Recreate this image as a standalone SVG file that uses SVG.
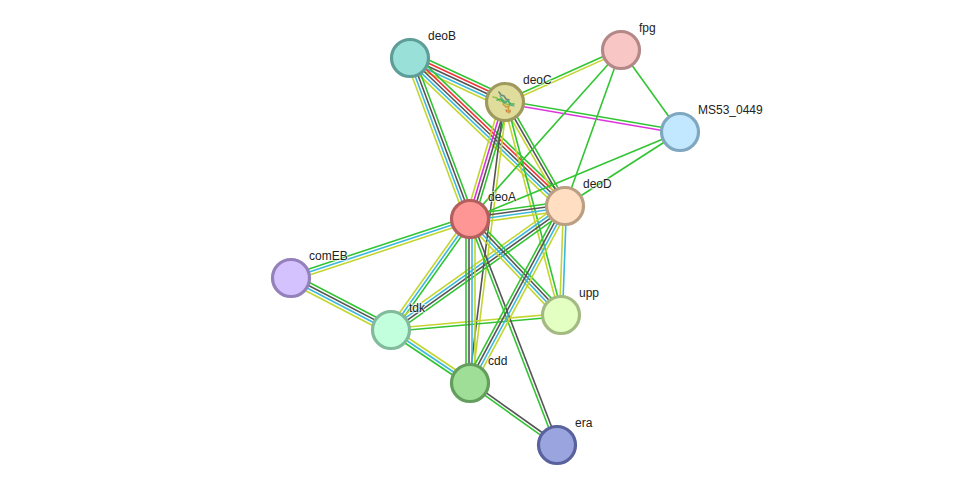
<svg xmlns="http://www.w3.org/2000/svg" width="975" height="490" viewBox="0 0 975 490">
<style>
text{font-family:"Liberation Sans",Arial,sans-serif;font-size:12px;fill:#222;paint-order:stroke;stroke:#fff;stroke-width:2px;stroke-opacity:.6}
line{stroke-width:1.6;fill:none}
.g{stroke:#33c433}.r{stroke:#f2343a}.k{stroke:#555}.b{stroke:#3cb8dc}.y{stroke:#c3d630}.m{stroke:#dd33dd}
circle{stroke-width:3.2}
.fold{fill:none;stroke-linecap:round;stroke-linejoin:round}
</style>
<rect width="975" height="490" fill="#fff"/>
<g id="connectors">
<!-- each bundle runs along local x; strands sit at fixed local y offsets -->
<g transform="translate(410,58) rotate(24.85)"><line class="g" x2="104.7" y1="-6" y2="-6"/><line class="r" x2="104.7" y1="-3" y2="-3"/><line class="k" x2="104.7"/><line class="b" x2="104.7" y1="3" y2="3"/><line class="y" x2="104.7" y1="6" y2="6"/></g>
<g transform="translate(410,58) rotate(43.68)"><line class="g" x2="214.3" y1="-6" y2="-6"/><line class="r" x2="214.3" y1="-3" y2="-3"/><line class="k" x2="214.3"/><line class="b" x2="214.3" y1="3" y2="3"/><line class="y" x2="214.3" y1="6" y2="6"/></g>
<g transform="translate(410,58) rotate(69.56)"><line class="g" x2="171.8" y1="-4.5" y2="-4.5"/><line class="k" x2="171.8" y1="-1.5" y2="-1.5"/><line class="b" x2="171.8" y1="1.5" y2="1.5"/><line class="y" x2="171.8" y1="4.5" y2="4.5"/></g>
<g transform="translate(470,219) rotate(-73.35)"><line class="y" x2="122.1" y1="-4.5" y2="-4.5"/><line class="m" x2="122.1" y1="-1.5" y2="-1.5"/><line class="k" x2="122.1" y1="1.5" y2="1.5"/><line class="g" x2="122.1" y1="4.5" y2="4.5"/></g>
<g transform="translate(505,102) rotate(60.02)"><line class="g" x2="120.1" y1="-3" y2="-3"/><line class="k" x2="120.1"/><line class="y" x2="120.1" y1="3" y2="3"/></g>
<g transform="translate(470,383) rotate(-82.9)"><line class="k" x2="283.2" y1="-1" y2="-1"/><line class="y" x2="283.2" y1="2" y2="2"/></g>
<g transform="translate(505,102) rotate(75.27)"><line class="g" x2="220.2" y1="-1.5" y2="-1.5"/><line class="y" x2="220.2" y1="1.5" y2="1.5"/></g>
<g transform="translate(505,102) rotate(-24.14)"><line class="g" x2="127.1" y1="-1.5" y2="-1.5"/><line class="y" x2="127.1" y1="1.5" y2="1.5"/></g>
<g transform="translate(505,102) rotate(9.73)"><line class="g" x2="177.6" y1="-1.5" y2="-1.5"/><line class="m" x2="177.6" y1="1.5" y2="1.5"/></g>
<g transform="translate(470,219) rotate(-48.22)"><line class="g" x2="226.6"/></g>
<g transform="translate(565,206) rotate(-70.25)"><line class="g" x2="165.7"/></g>
<g transform="translate(621,50) rotate(54.27)"><line class="g" x2="101"/></g>
<g transform="translate(470,219) rotate(-22.5)"><line class="g" x2="227.3"/></g>
<g transform="translate(565,206) rotate(-32.76)"><line class="g" x2="136.8"/></g>
<g transform="translate(470,219) rotate(-7.79)"><line class="g" x2="95.9" y1="-4.5" y2="-4.5"/><line class="k" x2="95.9" y1="-1.5" y2="-1.5"/><line class="b" x2="95.9" y1="1.5" y2="1.5"/><line class="y" x2="95.9" y1="4.5" y2="4.5"/></g>
<g transform="translate(291,278) rotate(-18.24)"><line class="g" x2="188.5" y1="-3" y2="-3"/><line class="b" x2="188.5"/><line class="y" x2="188.5" y1="3" y2="3"/></g>
<g transform="translate(291,278) rotate(27.47)"><line class="g" x2="112.7" y1="-4.5" y2="-4.5"/><line class="k" x2="112.7" y1="-1.5" y2="-1.5"/><line class="b" x2="112.7" y1="1.5" y2="1.5"/><line class="y" x2="112.7" y1="4.5" y2="4.5"/></g>
<g transform="translate(391,330) rotate(-54.56)"><line class="y" x2="136.2" y1="-3" y2="-3"/><line class="b" x2="136.2"/><line class="g" x2="136.2" y1="3" y2="3"/></g>
<g transform="translate(391,330) rotate(-35.47)"><line class="y" x2="213.7" y1="-4.5" y2="-4.5"/><line class="b" x2="213.7" y1="-1.5" y2="-1.5"/><line class="k" x2="213.7" y1="1.5" y2="1.5"/><line class="g" x2="213.7" y1="4.5" y2="4.5"/></g>
<g transform="translate(391,330) rotate(-5.04)"><line class="y" x2="170.7" y1="-1.5" y2="-1.5"/><line class="g" x2="170.7" y1="1.5" y2="1.5"/></g>
<g transform="translate(391,330) rotate(33.86)"><line class="y" x2="95.1" y1="-3" y2="-3"/><line class="b" x2="95.1"/><line class="g" x2="95.1" y1="3" y2="3"/></g>
<g transform="translate(470,219) rotate(46.53)"><line class="g" x2="132.3" y1="-4.5" y2="-4.5"/><line class="k" x2="132.3" y1="-1.5" y2="-1.5"/><line class="b" x2="132.3" y1="1.5" y2="1.5"/><line class="y" x2="132.3" y1="4.5" y2="4.5"/></g>
<g transform="translate(470,383) rotate(-90)"><line class="g" x2="164" y1="-4" y2="-4"/><line class="k" x2="164" y1="-1" y2="-1"/><line class="b" x2="164" y1="2" y2="2"/><line class="y" x2="164" y1="5" y2="5"/></g>
<g transform="translate(470,219) rotate(68.95)"><line class="k" x2="242.2" y1="-1.5" y2="-1.5"/><line class="g" x2="242.2" y1="1.5" y2="1.5"/></g>
<g transform="translate(470,383) rotate(35.48)"><line class="k" x2="106.8" y1="-1.5" y2="-1.5"/><line class="g" x2="106.8" y1="1.5" y2="1.5"/></g>
<g transform="translate(470,383) rotate(-61.78)"><line class="g" x2="200.9" y1="-4.5" y2="-4.5"/><line class="k" x2="200.9" y1="-1.5" y2="-1.5"/><line class="b" x2="200.9" y1="1.5" y2="1.5"/><line class="y" x2="200.9" y1="4.5" y2="4.5"/></g>
<g transform="translate(561,315) rotate(-87.9)"><line class="y" x2="109.1" y1="-1.5" y2="-1.5"/><line class="b" x2="109.1" y1="1.5" y2="1.5"/></g>
</g>
<g id="deoB"><circle cx="410" cy="58" r="18.5" fill="#98e0d8" stroke="#5f9e98"/><text x="428" y="40">deoB</text></g>
<g id="deoC"><circle cx="505" cy="102" r="18.5" fill="#e0dc9c" stroke="#9e9a5e"/>
<!-- small ribbon sketch of the protein fold -->
<path class="fold" d="M493 97l4 1 3 3 3 0 3 3 4 1" stroke="#8fc24a" stroke-width="1.5"/>
<path class="fold" d="M499 92l2 3 3 1 2 3 3 1" stroke="#6f8a78" stroke-width="1.6"/>
<path class="fold" d="M497 100l4 -1 3 4 4 -2 3 3 3 0" stroke="#4fae5a" stroke-width="1.6"/>
<path class="fold" d="M500 96l4 5 4 0 2 4 4 1" stroke="#45a98a" stroke-width="1.1"/>
<path class="fold" d="M503 104l3 3 3 -1 -1 4 1 3" stroke="#cf9a3e" stroke-width="1.5"/>
<path class="fold" d="M506 110l1 2M510 110l0 2" stroke="#c96f3a" stroke-width="1.2"/>
<text x="523" y="84">deoC</text></g>
<g id="fpg"><circle cx="621" cy="50" r="18.5" fill="#f9c6c6" stroke="#b58888"/><text x="639" y="32">fpg</text></g>
<g id="MS53_0449"><circle cx="680" cy="132" r="18.5" fill="#c2e8ff" stroke="#7fa8c0"/><text x="698" y="114">MS53_0449</text></g>
<g id="deoD"><circle cx="565" cy="206" r="18.5" fill="#ffdec2" stroke="#bb9f83"/><text x="583" y="188">deoD</text></g>
<g id="deoA"><circle cx="470" cy="219" r="18.5" fill="#ff9696" stroke="#b55e5e"/><text x="488" y="201">deoA</text></g>
<g id="comEB"><circle cx="291" cy="278" r="18.5" fill="#d4c2ff" stroke="#9480bb"/><text x="309" y="260">comEB</text></g>
<g id="tdk"><circle cx="391" cy="330" r="18.5" fill="#c2ffdc" stroke="#82bb9b"/><text x="409" y="312">tdk</text></g>
<g id="upp"><circle cx="561" cy="315" r="18.5" fill="#e3ffc2" stroke="#a3bb82"/><text x="579" y="297">upp</text></g>
<g id="cdd"><circle cx="470" cy="383" r="18.5" fill="#9ede96" stroke="#639e5c"/><text x="488" y="365">cdd</text></g>
<g id="era"><circle cx="557" cy="445" r="18.5" fill="#9aa4de" stroke="#5a629e"/><text x="575" y="427">era</text></g>
</svg>
